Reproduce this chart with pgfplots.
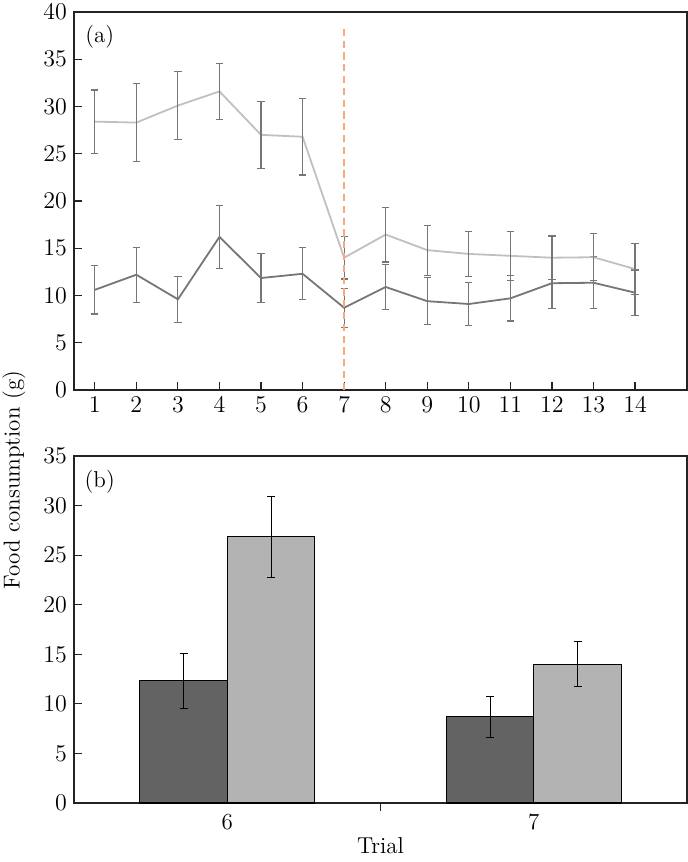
\documentclass[border=0pt]{standalone}
\usepackage{pgfplots}
\usepackage{pgfplotstable}
\pgfplotsset{compat=1.18}
\definecolor{lightline}{RGB}{192,192,192}
\definecolor{darkline}{RGB}{118,118,118}
\definecolor{errgray}{RGB}{118,118,118}
\definecolor{vline}{RGB}{245,172,125}
\definecolor{darkbar}{RGB}{99,99,99}
\definecolor{lightbar}{RGB}{179,179,179}
\definecolor{axcol}{RGB}{35,35,35}

\pgfplotstableread{
x y e
1 28.4 3.35
2 28.3 4.1
3 30.1 3.6
4 31.6 2.95
5 27.0 3.55
6 26.8 4.05
7 14.0 2.25
8 16.45 2.9
9 14.8 2.65
10 14.4 2.35
11 14.2 2.6
12 14.0 2.3
13 14.05 2.5
14 12.8 2.7
}\lightdata

\pgfplotstableread{
x y e
1 10.6 2.55
2 12.2 2.9
3 9.6 2.45
4 16.2 3.35
5 11.85 2.6
6 12.3 2.75
7 8.7 2.07
8 10.9 2.35
9 9.4 2.5
10 9.1 2.25
11 9.7 2.4
12 11.3 2.7
13 11.35 2.75
14 10.3 2.4
}\darkdata

\begin{document}
\begin{tikzpicture}
\useasboundingbox (0pt,0pt) rectangle (344pt,-431pt);
\pgfplotsset{every axis/.append style={
 scale only axis, anchor=south west, width=306.5pt,
 axis line style={axcol, line width=0.8pt},
 tick style={axcol, line width=0.6pt},
 tick align=inside, xtick pos=bottom, ytick pos=left, major tick length=4pt,
 ticklabel style={font=\fontsize{11.5}{13}\selectfont},
 label style={font=\fontsize{11.5}{13}\selectfont},
}}
\begin{axis}[at={(37pt,-195pt)}, height=189pt, xmin=0.5, xmax=15.25, ymin=0, ymax=40,
  xtick={1,...,14}, ytick={0,5,...,40}]
\addplot[darkline, line width=0.9pt, error bars/.cd, y dir=both, y explicit,
  error bar style={errgray, line width=0.6pt},
  error mark options={errgray, rotate=90, mark size=1.8pt, line width=0.6pt}]
  table[x=x, y=y, y error=e]{\darkdata};
\addplot[lightline, line width=0.9pt, error bars/.cd, y dir=both, y explicit,
  error bar style={errgray, line width=0.6pt},
  error mark options={errgray, rotate=90, mark size=1.8pt, line width=0.6pt}]
  table[x=x, y=y, y error=e]{\lightdata};
\addplot[vline, line width=1pt, dash pattern=on 3.6pt off 2.3pt] coordinates {(7,0) (7,38.5)};
\node[font=\fontsize{11.5}{13}\selectfont] at (rel axis cs:0.042,0.935) {(a)};
\end{axis}

\begin{axis}[at={(37pt,-401.5pt)}, height=173.5pt, xmin=-0.5, xmax=1.5, ymin=0, ymax=35,
  ytick={0,5,...,35}, xtick={0.5}, xticklabels={},
  extra x ticks={0,1}, extra x tick labels={6,7},
  extra x tick style={major tick length=0pt, xticklabel shift=2pt},
  ybar=0pt, bar width=43.75pt,
  xlabel={Trial},
  xlabel style={at={(axis description cs:0.5,0)}, anchor=north, yshift=-13.8pt}]
\addplot[fill=darkbar, draw=black, line width=0.6pt, error bars/.cd, y dir=both, y explicit,
  error bar style={black, line width=0.5pt},
  error mark options={black, rotate=90, mark size=2pt, line width=0.5pt}]
  coordinates {(0,12.33) +- (0,2.75) (1,8.7) +- (0,2.07)};
\addplot[fill=lightbar, draw=black, line width=0.6pt, error bars/.cd, y dir=both, y explicit,
  error bar style={black, line width=0.5pt},
  error mark options={black, rotate=90, mark size=2pt, line width=0.5pt}]
  coordinates {(0,26.87) +- (0,4.08) (1,14.0) +- (0,2.25)};
\node[font=\fontsize{11.5}{13}\selectfont] at (rel axis cs:0.042,0.926) {(b)};
\end{axis}

\node[rotate=90, font=\fontsize{11.5}{13}\selectfont] at (7pt,-240pt) {Food consumption (g)};
\end{tikzpicture}
\end{document}
